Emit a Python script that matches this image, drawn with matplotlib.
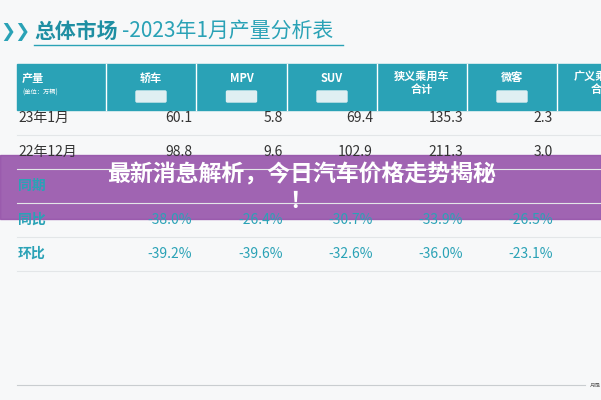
import matplotlib.pyplot as plt
from matplotlib.patches import Rectangle, FancyBboxPatch

plt.rcParams['font.family'] = ['Noto Sans CJK SC', 'DejaVu Sans']

title = "总体市场-2023年1月产量分析表"
columns = ["轿车", "MPV", "SUV", "狭义乘用车\n合计", "微客", "广义乘用车\n合计"]
rows = ["23年1月", "22年12月", "同期", "同比", "环比"]
jan23 = ["60.1", "5.8", "69.4", "135.3", "2.3"]
dec22 = ["98.8", "9.6", "102.9", "211.3", "3.0"]
yoy = ["-38.0%", "-26.4%", "-30.7%", "-33.9%", "-26.5%"]
mom = ["-39.2%", "-39.6%", "-32.6%", "-36.0%", "-23.1%"]
banner = "最新消息解析，今日汽车价格走势揭秘\n！"

fig = plt.figure(figsize=(6.01, 4.0), dpi=100)
ax = fig.add_axes([0, 0, 1, 1])
ax.set_xlim(0, 601)
ax.set_ylim(400, 0)
ax.axis('off')
fig.patch.set_facecolor('#f7f8f9')

teal = '#2aa2b6'
# title
ax.text(0, 32, "❯❯", color=teal, fontsize=13, fontweight='bold', va='center', family=['DejaVu Sans'])
ax.text(34, 31, "总体市场", color='#1f8fa3', fontsize=15, fontweight='bold', va='center')
ax.text(122, 31, title[4:], color=teal, fontsize=15, va='center')
ax.plot([34, 343], [45, 45], color=teal, lw=1)

# header
edges = [17, 106, 196, 287, 377, 467, 557, 647]
ax.add_patch(Rectangle((17, 64), 601 - 17, 46, color=teal))
for x in edges[1:-1]:
    ax.plot([x, x], [64, 110], color='white', lw=1)
ax.text(22, 78, "产量", color='white', fontsize=8, fontweight='bold', va='center')
ax.text(22, 93, "(单位：万辆)", color='white', fontsize=4.5, va='center')
for i, c in enumerate(columns):
    cx = (edges[i + 1] + edges[i + 2]) / 2
    ax.text(cx, 78 if "\n" not in c else 83, c, color='white', fontsize=8, fontweight='bold',
            ha='center', va='center', linespacing=1.0, clip_on=True)
    if "\n" not in c:
        ax.add_patch(FancyBboxPatch((cx - 14, 92), 28, 9, boxstyle="round,pad=1",
                                    color='#dfeff2'))

# rows
row_y = [118, 152, 186, 220, 254]
data = [jan23, dec22, None, yoy, mom]
for r, y, vals in zip(rows, row_y, data):
    col = teal if r in ("同期", "同比", "环比") else '#333333'
    ax.text(18, y, r, fontsize=10, va='center', color=col, fontweight='bold' if col != '#333333' else 'normal')
    if vals:
        vc = teal if '%' in vals[0] else '#333333'
        for j, v in enumerate(vals):
            ax.text(edges[j + 2] - 4, y, v, fontsize=10, va='center', ha='right', color=vc)
    ax.plot([17, 601], [y + 17, y + 17], color='#e3e6e8', lw=0.8)
ax.plot([17, 585], [385, 385], color='#c9cdd0', lw=0.8)
ax.text(590, 385, "月是", fontsize=4, va='center', color='#666666')

# banner overlay
ax.add_patch(Rectangle((0, 155), 601, 64, color='#9450a8', alpha=0.88))
ax.text(301, 188, banner, color='white', fontsize=16.5, fontweight='bold',
        ha='center', va='center', linespacing=1.15)

fig.savefig("out.png", dpi=100)
